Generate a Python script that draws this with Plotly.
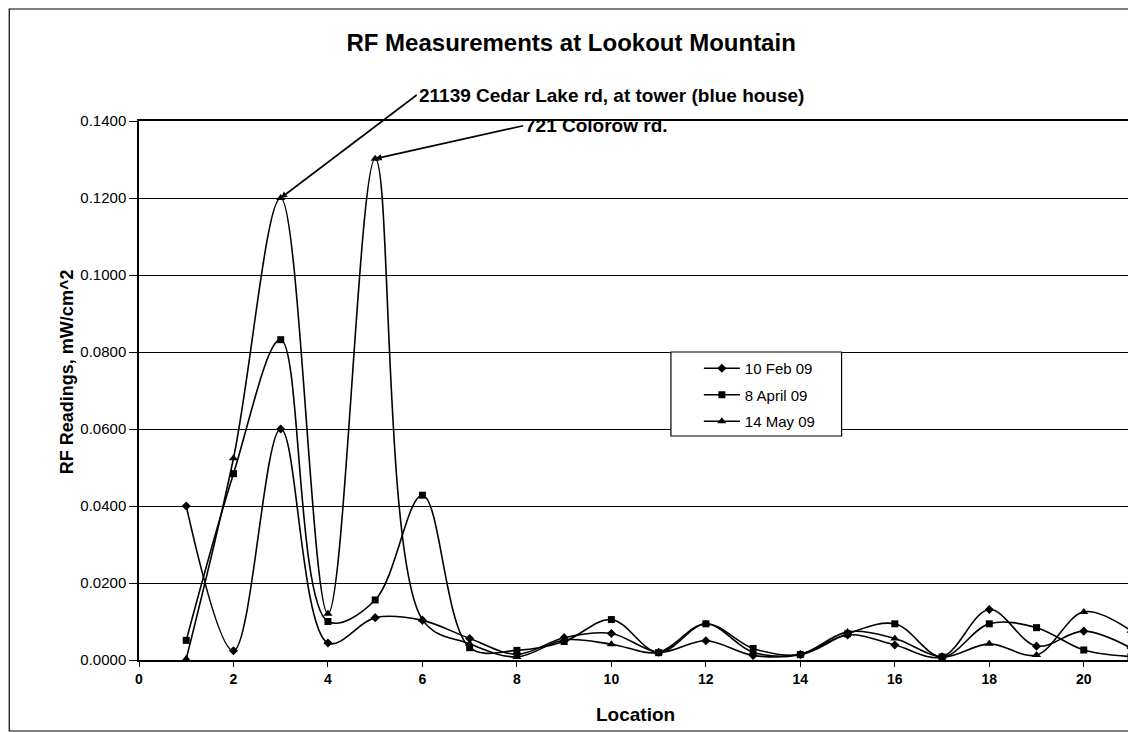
import plotly.graph_objects as go

locations = list(range(1, 22))
feb_10 = [0.0400, 0.0024, 0.0600, 0.0044, 0.0110, 0.0103, 0.0056, 0.0015, 0.0058, 0.0069,
          0.0020, 0.0050, 0.0012, 0.0014, 0.0065, 0.0039, 0.0008, 0.0131, 0.0036, 0.0075, 0.0031]
apr_8 = [0.0051, 0.0484, 0.0832, 0.0100, 0.0156, 0.0428, 0.0032, 0.0025, 0.0048, 0.0105,
         0.0019, 0.0094, 0.0030, 0.0014, 0.0068, 0.0094, 0.0008, 0.0094, 0.0084, 0.0026, 0.0009]
may_14 = [0.0003, 0.0524, 0.1200, 0.0120, 0.1302, 0.0105, 0.0042, 0.0008, 0.0052, 0.0041,
          0.0020, 0.0094, 0.0020, 0.0015, 0.0073, 0.0056, 0.0008, 0.0042, 0.0013, 0.0125, 0.0076]
series_names = ["10 Feb 09", "8 April 09", "14 May 09"]
y_ticks = [0.0, 0.02, 0.04, 0.06, 0.08, 0.10, 0.12, 0.14]
x_ticks = list(range(0, 22, 2))

FONT = "Arial, Liberation Sans, Helvetica, sans-serif"

# page is offset by the default 8px body margin
OFF = 8
W, H = 1136 - OFF, 732 - OFF
L = 139 - OFF
R = 3
T = 121 - OFF
B = 72
pw = W - L - R
ph = H - T - B


def px(xw):
    return (xw - OFF - L) / pw


def py(yw):
    return (H - B - (yw - OFF)) / ph


fig = go.Figure()
markers = ["diamond", "square", "triangle-up"]
sizes = [7, 7, 8]
for i, (name, vals, sym, sz) in enumerate(zip(series_names, [feb_10, apr_8, may_14], markers, sizes)):
    fig.add_trace(go.Scatter(
        x=locations, y=vals, name=name, mode="lines+markers", legendgroup=f"g{i}",
        line=dict(color="black", width=1.6, shape="spline", smoothing=1.0),
        marker=dict(symbol=sym, size=sz, color="black"),
    ))

fig.update_layout(
    width=W, height=H,
    margin=dict(l=L, r=R, t=T, b=B),
    paper_bgcolor="white", plot_bgcolor="white",
    font=dict(family=FONT, color="black"),
    title=dict(text="<b>RF Measurements at Lookout Mountain</b>",
               font=dict(size=24, family=FONT, color="black"),
               xref="paper", x=px(572), y=1 - (43 - OFF) / H, yanchor="middle", xanchor="center"),
    showlegend=True,
    legend=dict(x=px(700), y=py(352), xanchor="left", yanchor="top",
                borderwidth=0, bgcolor="rgba(0,0,0,0)",
                font=dict(size=15, family=FONT, color="black"),
                itemwidth=36, tracegroupgap=4, traceorder="grouped"),
    xaxis=dict(range=[0, 21], tickvals=x_ticks, ticktext=[f"<b>{v}</b>" for v in x_ticks],
               showgrid=False, zeroline=False, showline=True, linecolor="black", linewidth=1.5,
               mirror=True, ticks="outside", ticklen=5, tickcolor="black",
               tickfont=dict(size=14, family=FONT, color="black")),
    yaxis=dict(range=[0, 0.14], tickvals=y_ticks,
               ticktext=[f"{v:.4f}" for v in y_ticks],
               showgrid=True, gridcolor="black", gridwidth=1, zeroline=False,
               showline=True, linecolor="black", linewidth=1.5, mirror=True,
               ticks="outside", ticklen=8, tickcolor="black",
               tickfont=dict(size=15, family=FONT, color="black")),
)

fig.add_shape(type="rect", xref="paper", yref="paper",
              x0=px(672), x1=px(843), y0=py(436), y1=py(352),
              line=dict(color="black", width=1.2), fillcolor="white", layer="above")

fig.add_annotation(text="<b>Location</b>", xref="paper", yref="paper",
                   x=px(636), y=py(715), showarrow=False,
                   xanchor="center", yanchor="middle",
                   font=dict(size=19, family=FONT, color="black"))
fig.add_annotation(text="<b>RF Readings, mW/cm^2</b>", xref="paper", yref="paper",
                   x=px(67), y=py(372), showarrow=False, textangle=-90,
                   xanchor="center", yanchor="middle",
                   font=dict(size=18, family=FONT, color="black"))

fig.add_annotation(text="<b>21139 Cedar Lake rd, at tower (blue house)</b>",
                   x=3, y=may_14[2], xref="x", yref="y",
                   ax=136, ay=-103, xanchor="left", yanchor="middle",
                   showarrow=True, arrowhead=2, arrowsize=0.8, arrowwidth=1.6,
                   arrowcolor="black", font=dict(size=19, family=FONT, color="black"))
fig.add_annotation(text="<b>721 Colorow rd.</b>",
                   x=5, y=may_14[4], xref="x", yref="y",
                   ax=148, ay=-33, xanchor="left", yanchor="middle",
                   showarrow=True, arrowhead=2, arrowsize=0.8, arrowwidth=1.6,
                   arrowcolor="black", font=dict(size=19, family=FONT, color="black"))

fig.add_shape(type="rect", xref="paper", yref="paper",
              x0=px(9), x1=px(1133), y0=py(731), y1=py(9),
              line=dict(color="black", width=1.2), fillcolor="rgba(0,0,0,0)", layer="below")

fig.write_html("out.html")
